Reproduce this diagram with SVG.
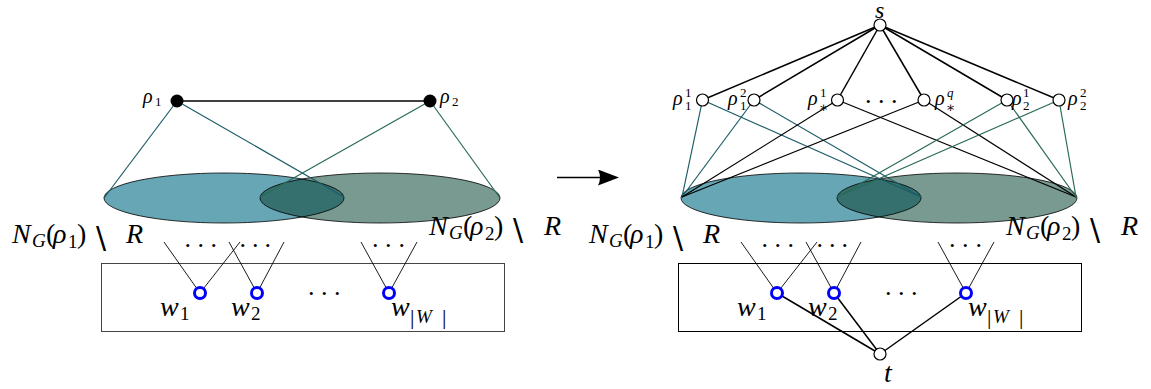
<svg xmlns="http://www.w3.org/2000/svg" width="1151" height="389" viewBox="0 0 1151 389">
<defs>
<style>
.m{font-family:"Liberation Serif","DejaVu Serif",serif;font-style:italic;fill:#000}
.u{font-style:normal}
.big{font-size:28px}
.sc{font-size:19px}
.sr{font-size:20px}
.ss{font-size:13px}
.bar{font-size:22px}
.ast{font-family:"DejaVu Serif",serif;font-style:normal;font-size:14px}
.bsl{font-family:"DejaVu Sans",sans-serif;font-style:normal;font-size:30px;fill:#000}
.dots{font-family:"Liberation Serif","DejaVu Serif",serif;font-size:26px;fill:#000}
.e1{fill:#67a6b4}
.e2{fill:#789a90}
.eo{fill:#35706e}
.eline{fill:none;stroke:#000;stroke-width:0.8}
.c1{stroke:#1b5c67;stroke-width:1.2;fill:none}
.c2{stroke:#2b6a5a;stroke-width:1.2;fill:none}
.k{stroke:#000;stroke-width:1.5;fill:none}
.km{stroke:#000;stroke-width:1.2;fill:none}
.th{stroke:#000;stroke-width:0.9;fill:none}
.bn{fill:#fff;stroke:#0000ff;stroke-width:3}
.wn{fill:#fff;stroke:#000;stroke-width:1.2}
.fn{fill:#000}
.box{fill:none;stroke-width:1}
</style>
<clipPath id="cl"><ellipse cx="224" cy="198" rx="120" ry="25"/></clipPath>
<clipPath id="cr"><ellipse cx="801" cy="198" rx="120" ry="25"/></clipPath>
<marker id="ah" markerUnits="userSpaceOnUse" markerWidth="22" markerHeight="17" refX="14" refY="8" orient="auto">
<path d="M0,0 L21,8 L0,16 Q4,8 0,0 z" fill="#000"/>
</marker>
</defs>

<g id="sets-left">
<ellipse class="e1" cx="224" cy="198" rx="120" ry="25"/>
<ellipse class="e2" cx="380" cy="198" rx="120" ry="25"/>
<ellipse class="eo" cx="380" cy="198" rx="120" ry="25" clip-path="url(#cl)"/>
<ellipse class="eline" cx="224" cy="198" rx="120" ry="25"/>
<ellipse class="eline" cx="380" cy="198" rx="120" ry="25"/>
</g>
<g id="sets-right">
<ellipse class="e1" cx="801" cy="198" rx="120" ry="25"/>
<ellipse class="e2" cx="957" cy="198" rx="120" ry="25"/>
<ellipse class="eo" cx="957" cy="198" rx="120" ry="25" clip-path="url(#cr)"/>
<ellipse class="eline" cx="801" cy="198" rx="120" ry="25"/>
<ellipse class="eline" cx="957" cy="198" rx="120" ry="25"/>
</g>

<g id="box-left"><rect class="box" x="101.5" y="263.5" width="403" height="68" stroke="#444"/></g>
<g id="box-right"><rect class="box" x="678.5" y="263.5" width="403" height="68" stroke="#000"/></g>

<g id="connectors">
<line class="k" x1="177" y1="101" x2="430" y2="101"/>
<line class="c1" x1="177" y1="101" x2="104" y2="198"/>
<line class="c1" x1="177" y1="101" x2="344" y2="197"/>
<line class="c2" x1="430" y1="101" x2="260" y2="197"/>
<line class="c2" x1="430" y1="101" x2="500" y2="198"/>
<line class="th" x1="164" y1="242" x2="200" y2="293"/>
<line class="th" x1="240" y1="242" x2="200" y2="293"/>
<line class="th" x1="229" y1="242" x2="257" y2="293"/>
<line class="th" x1="284" y1="242" x2="257" y2="293"/>
<line class="th" x1="361" y1="242" x2="389" y2="293"/>
<line class="th" x1="417" y1="242" x2="389" y2="293"/>

<line class="k" x1="557" y1="177.5" x2="612" y2="177.5" marker-end="url(#ah)"/>

<line class="k" x1="880" y1="25" x2="702.5" y2="100"/>
<line class="k" x1="880" y1="25" x2="754" y2="100"/>
<line class="k" x1="880" y1="25" x2="837.5" y2="100"/>
<line class="k" x1="880" y1="25" x2="924" y2="100"/>
<line class="k" x1="880" y1="25" x2="1007" y2="100"/>
<line class="k" x1="880" y1="25" x2="1059" y2="100"/>
<line class="c1" x1="702.5" y1="100" x2="682" y2="197"/>
<line class="c1" x1="702.5" y1="100" x2="921" y2="197"/>
<line class="c1" x1="754" y1="100" x2="682" y2="197"/>
<line class="c1" x1="754" y1="100" x2="921" y2="197"/>
<line class="km" x1="837.5" y1="100" x2="682" y2="197"/>
<line class="km" x1="837.5" y1="100" x2="1076" y2="197"/>
<line class="km" x1="924" y1="100" x2="682" y2="197"/>
<line class="km" x1="924" y1="100" x2="1076" y2="197"/>
<line class="c2" x1="1007" y1="100" x2="837" y2="197"/>
<line class="c2" x1="1007" y1="100" x2="1076" y2="197"/>
<line class="c2" x1="1059" y1="100" x2="837" y2="197"/>
<line class="c2" x1="1059" y1="100" x2="1076" y2="197"/>
<line class="th" x1="741" y1="242" x2="777" y2="293"/>
<line class="th" x1="817" y1="242" x2="777" y2="293"/>
<line class="th" x1="806" y1="242" x2="834" y2="293"/>
<line class="th" x1="861" y1="242" x2="834" y2="293"/>
<line class="th" x1="938" y1="242" x2="966" y2="293"/>
<line class="th" x1="994" y1="242" x2="966" y2="293"/>
<line class="k" x1="777" y1="293" x2="880" y2="354"/>
<line class="k" x1="834" y1="293" x2="880" y2="354"/>
<line class="k" x1="966" y1="293" x2="880" y2="354"/>
</g>

<g id="rho1"><circle class="fn" cx="177" cy="101" r="6.5"/>
<text class="m sr" x="143" y="103">ρ<tspan class="u ss" x="155" y="106">1</tspan></text></g>
<g id="rho2"><circle class="fn" cx="430" cy="101" r="6.5"/>
<text class="m sr" x="440" y="103">ρ<tspan class="u ss" x="452" y="106">2</tspan></text></g>

<g id="label-N1-left"><text class="m big" x="12" y="243">N<tspan class="sc" x="32" y="247">G</tspan><tspan class="u" x="46" y="243">(</tspan><tspan x="53">ρ</tspan><tspan class="u sc" x="68" y="248">1</tspan><tspan class="u" x="77" y="243">)</tspan><tspan class="bsl" x="96" y="248">\</tspan><tspan x="126" y="243">R</tspan></text></g>
<g id="label-N2-left"><text class="m big" x="429" y="235">N<tspan class="sc" x="449" y="239">G</tspan><tspan class="u" x="463" y="235">(</tspan><tspan x="470">ρ</tspan><tspan class="u sc" x="485" y="240">2</tspan><tspan class="u" x="494" y="235">)</tspan><tspan class="bsl" x="513" y="240">\</tspan><tspan x="544" y="235">R</tspan></text></g>
<g id="label-N1-right"><text class="m big" x="589" y="243">N<tspan class="sc" x="609" y="247">G</tspan><tspan class="u" x="623" y="243">(</tspan><tspan x="630">ρ</tspan><tspan class="u sc" x="645" y="248">1</tspan><tspan class="u" x="654" y="243">)</tspan><tspan class="bsl" x="673" y="248">\</tspan><tspan x="703" y="243">R</tspan></text></g>
<g id="label-N2-right"><text class="m big" x="1006" y="235">N<tspan class="sc" x="1026" y="239">G</tspan><tspan class="u" x="1040" y="235">(</tspan><tspan x="1047">ρ</tspan><tspan class="u sc" x="1062" y="240">2</tspan><tspan class="u" x="1071" y="235">)</tspan><tspan class="bsl" x="1090" y="240">\</tspan><tspan x="1121" y="235">R</tspan></text></g>

<g id="dots">
<text class="dots" x="184.5 197.5 210.5" y="247">...</text>
<text class="dots" x="239.5 252 264.5" y="247">...</text>
<text class="dots" x="372 385 398.5" y="247">...</text>
<text class="dots" x="308 321 334" y="295">...</text>
<text class="dots" x="761.5 774.5 787.5" y="247">...</text>
<text class="dots" x="816.5 829 841.5" y="247">...</text>
<text class="dots" x="949 962 975.5" y="247">...</text>
<text class="dots" x="885 898 911" y="295">...</text>
<text class="dots" x="865 878 891" y="103">...</text>
</g>

<g id="w1"><circle class="bn" cx="200" cy="293" r="5.5"/>
<text class="m big" x="160" y="316">w<tspan class="u sc" x="180" y="320">1</tspan></text></g>
<g id="w2"><circle class="bn" cx="257" cy="293" r="5.5"/>
<text class="m big" x="231" y="316">w<tspan class="u sc" x="251" y="320">2</tspan></text></g>
<g id="wW"><circle class="bn" cx="389" cy="293" r="5.5"/>
<text class="m big" x="391" y="316">w<tspan class="u bar" x="410" y="324">|</tspan><tspan class="sc" x="416" y="323">W</tspan><tspan class="u bar" x="442" y="324">|</tspan></text></g>

<g id="w1b"><circle class="bn" cx="777" cy="293" r="5.5"/>
<text class="m big" x="737" y="316">w<tspan class="u sc" x="757" y="320">1</tspan></text></g>
<g id="w2b"><circle class="bn" cx="834" cy="293" r="5.5"/>
<text class="m big" x="808" y="316">w<tspan class="u sc" x="828" y="320">2</tspan></text></g>
<g id="wWb"><circle class="bn" cx="966" cy="293" r="5.5"/>
<text class="m big" x="968" y="316">w<tspan class="u bar" x="987" y="324">|</tspan><tspan class="sc" x="993" y="323">W</tspan><tspan class="u bar" x="1019" y="324">|</tspan></text></g>

<g id="s"><circle class="wn" cx="880" cy="25" r="6"/><text class="m" font-size="24" x="875" y="18">s</text></g>
<g id="t"><circle class="wn" cx="880" cy="354" r="6"/><text class="m big" x="884" y="382">t</text></g>

<g id="r11"><circle class="wn" cx="702.5" cy="100" r="6"/>
<text class="m sr" x="673" y="105">ρ<tspan class="u ss" x="685" y="97">1</tspan><tspan class="u ss" x="685" y="110">1</tspan></text></g>
<g id="r12"><circle class="wn" cx="754" cy="100" r="6"/>
<text class="m sr" x="728" y="105">ρ<tspan class="u ss" x="740" y="97">2</tspan><tspan class="u ss" x="740" y="110">1</tspan></text></g>
<g id="rs1"><circle class="wn" cx="837.5" cy="100" r="6"/>
<text class="m sr" x="808" y="105">ρ<tspan class="u ss" x="820" y="97">1</tspan><tspan class="ast" x="819" y="112">∗</tspan></text></g>
<g id="rsq"><circle class="wn" cx="924" cy="100" r="6"/>
<text class="m sr" x="935" y="105">ρ<tspan class="ss" x="947" y="97">q</tspan><tspan class="ast" x="946" y="112">∗</tspan></text></g>
<g id="r21"><circle class="wn" cx="1007" cy="100" r="6"/>
<text class="m sr" x="1012" y="105">ρ<tspan class="u ss" x="1023" y="97">1</tspan><tspan class="u ss" x="1023" y="110">2</tspan></text></g>
<g id="r22"><circle class="wn" cx="1059" cy="100" r="6"/>
<text class="m sr" x="1068" y="105">ρ<tspan class="u ss" x="1080" y="97">2</tspan><tspan class="u ss" x="1080" y="110">2</tspan></text></g>
</svg>
